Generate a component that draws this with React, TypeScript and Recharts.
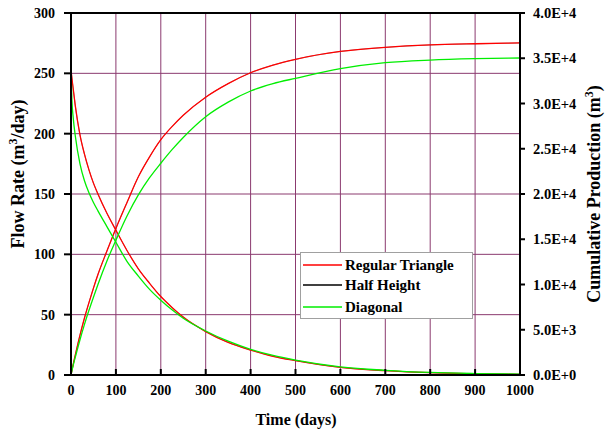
import React from "react";
import { LineChart, Line, XAxis, YAxis, CartesianGrid, ReferenceLine } from "recharts";

const times = [0, 2, 5, 10, 20, 30, 40, 50, 60, 80, 100, 125, 150, 175, 200, 225, 250, 300, 350, 400, 450, 500, 600, 700, 800, 900, 1000];

const regularRate = [253, 246, 237, 222, 199, 183, 170, 159, 150, 134, 120, 103, 88, 76, 65, 56, 48, 36, 27, 20.7, 15.5, 11.9, 6.3, 3.6, 1.9, 1.1, 0.6];
const regularCum = [0, 490, 1200, 2300, 4400, 6300, 8000, 9600, 11100, 13700, 16200, 19100, 21900, 24100, 26000, 27450, 28700, 30700, 32200, 33400, 34250, 34880, 35750, 36200, 36470, 36600, 36690];

const halfRate = [253, 246, 237, 222, 199, 183, 170, 159, 150, 134, 120, 103, 88, 76, 65, 56, 48, 36, 27, 20.7, 15.5, 11.9, 6.3, 3.6, 1.9, 1.1, 0.6];
const halfCum = [0, 490, 1200, 2300, 4400, 6300, 8000, 9600, 11100, 13700, 16200, 19100, 21900, 24100, 26000, 27450, 28700, 30700, 32200, 33400, 34250, 34880, 35750, 36200, 36470, 36600, 36690];

const diagonalRate = [253, 228, 213, 197, 175, 161, 151, 143, 136, 123, 110, 94, 82, 71, 62, 54, 47, 36.5, 28, 21.3, 16.2, 12.4, 6.8, 3.9, 2.1, 1.2, 0.7];
const diagonalCum = [0, 470, 1100, 2050, 3900, 5600, 7150, 8600, 10000, 12600, 14900, 17600, 19900, 21800, 23400, 24900, 26250, 28540, 30150, 31380, 32200, 32780, 33850, 34510, 34800, 34950, 35030];

const xTicks = [0, 100, 200, 300, 400, 500, 600, 700, 800, 900, 1000];
const leftTicks = [0, 50, 100, 150, 200, 250, 300];
const rightTicks = [0, 5000, 10000, 15000, 20000, 25000, 30000, 35000, 40000];
const rightTickLabels = ["0.0E+0", "5.0E+3", "1.0E+4", "1.5E+4", "2.0E+4", "2.5E+4", "3.0E+4", "3.5E+4", "4.0E+4"];

const seriesNames = ["Regular Triangle", "Half Height", "Diagonal"];
const seriesColors = ["#ff0000", "#000000", "#00ee00"];

const data = times.map((t, i) => ({
  t,
  rRate: regularRate[i],
  rCum: regularCum[i],
  hRate: halfRate[i],
  hCum: halfCum[i],
  dRate: diagonalRate[i],
  dCum: diagonalCum[i],
}));

const FONT = "'Liberation Serif', 'Times New Roman', serif";
const GRID = "#8b3a6f";

const XTick = (props: any) => {
  const { x, y, payload } = props;
  return (
    <g>
      <line x1={x} y1={y} x2={x} y2={y - 6} stroke="#000" strokeWidth={2} />
      <text x={x} y={y + 20} textAnchor="middle" fontFamily={FONT} fontWeight="bold" fontSize={14} fill="#000">
        {payload.value}
      </text>
    </g>
  );
};

const rightFmt = (v: number) => {
  const idx = rightTicks.indexOf(v);
  return idx >= 0 ? rightTickLabels[idx] : String(v);
};

export default function App() {
  return (
    <div style={{ position: "absolute", left: 0, top: 0, width: 605, height: 434, background: "#fff" }}>
      <LineChart width={605} height={434} data={data} margin={{ top: 13, right: 0, bottom: 0, left: 0 }}>
        <CartesianGrid stroke={GRID} strokeWidth={1} />
        <XAxis
          dataKey="t"
          type="number"
          domain={[0, 1000]}
          ticks={xTicks}
          height={59}
          tickSize={0}
          tickMargin={0}
          tickLine={false}
          axisLine={{ stroke: "#000", strokeWidth: 2 }}
          tick={<XTick />}
          interval={0}
        />
        <YAxis
          yAxisId={0}
          type="number"
          domain={[0, 300]}
          ticks={leftTicks}
          width={71}
          tickSize={7}
          tickMargin={9}
          interval={0}
          axisLine={{ stroke: "#000", strokeWidth: 2 }}
          tickLine={{ stroke: "#000", strokeWidth: 2 }}
          tick={{ fill: "#000", fontFamily: FONT, fontWeight: "bold", fontSize: 14 }}
        />
        <YAxis
          yAxisId="right"
          orientation="right"
          type="number"
          domain={[0, 40000]}
          ticks={rightTicks}
          tickFormatter={rightFmt}
          width={85}
          tickSize={5}
          tickMargin={8}
          interval={0}
          axisLine={{ stroke: "#000", strokeWidth: 2 }}
          tickLine={{ stroke: "#000", strokeWidth: 2 }}
          tick={{ fill: "#000", fontFamily: FONT, fontWeight: "bold", fontSize: 14.5, textAnchor: "start" }}
        />
        <ReferenceLine yAxisId={0} y={300} stroke="#000" strokeWidth={2} ifOverflow="visible" />
        <Line yAxisId={0} dataKey="hRate" name={seriesNames[1]} type="monotone" stroke={seriesColors[1]} strokeWidth={0.4} dot={false} isAnimationActive={false} />
        <Line yAxisId="right" dataKey="hCum" name={seriesNames[1]} type="monotone" stroke={seriesColors[1]} strokeWidth={0.4} dot={false} isAnimationActive={false} />
        <Line yAxisId={0} dataKey="rRate" name={seriesNames[0]} type="monotone" stroke={seriesColors[0]} strokeWidth={1.3} dot={false} isAnimationActive={false} />
        <Line yAxisId="right" dataKey="rCum" name={seriesNames[0]} type="monotone" stroke={seriesColors[0]} strokeWidth={1.3} dot={false} isAnimationActive={false} />
        <Line yAxisId={0} dataKey="dRate" name={seriesNames[2]} type="monotone" stroke={seriesColors[2]} strokeWidth={1.3} dot={false} isAnimationActive={false} />
        <Line yAxisId="right" dataKey="dCum" name={seriesNames[2]} type="monotone" stroke={seriesColors[2]} strokeWidth={1.3} dot={false} isAnimationActive={false} />
      </LineChart>
      <svg width={605} height={434} style={{ position: "absolute", left: 0, top: 0, pointerEvents: "none" }}>
        <g fontFamily={FONT} fontWeight="bold" fill="#000">
          <text x={24} y={174} fontSize={18} textAnchor="middle" transform="rotate(-90 24 174)">
            Flow Rate (m<tspan dy={-7} fontSize={12}>3</tspan><tspan dy={7}>/day)</tspan>
          </text>
          <text x={600} y={194} fontSize={18} textAnchor="middle" transform="rotate(-90 600 194)">
            Cumulative Production (m<tspan dy={-7} fontSize={12}>3</tspan><tspan dy={7}>)</tspan>
          </text>
          <text x={296} y={425} fontSize={16} textAnchor="middle">Time (days)</text>
        </g>
        <rect x={300.5} y={252.5} width={172} height={66} fill="#fff" stroke="#a0a0a0" strokeWidth={1} />
        {seriesNames.map((name, i) => {
          const ly = [265, 285, 307][i];
          return (
            <g key={name}>
              <line x1={303} y1={ly} x2={342} y2={ly} stroke={seriesColors[i]} strokeWidth={1.3} />
              <text x={345} y={ly + 5} fontFamily={FONT} fontWeight="bold" fontSize={15} fill="#000">{name}</text>
            </g>
          );
        })}
      </svg>
    </div>
  );
}
